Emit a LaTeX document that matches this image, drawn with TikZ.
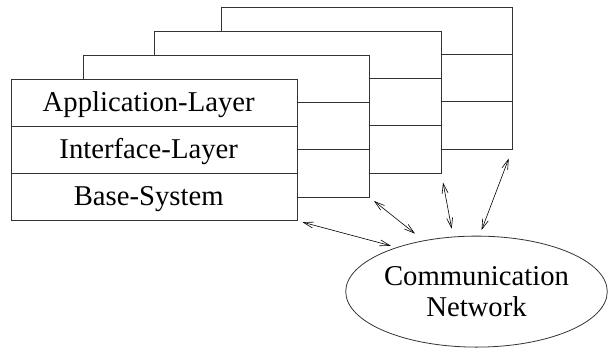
\documentclass[tikz,border=0pt]{standalone}
\usepackage{fontspec}
\newfontfamily\timesfont{Liberation Serif}
\usetikzlibrary{positioning,shapes.geometric,arrows.meta}

\definecolor{edge}{rgb}{0.2,0.2,0.2}

\tikzset{
  layer/.style={draw=edge, line width=1pt, fill=white, minimum width=286pt,
    minimum height=47.3pt, inner sep=0pt, outer sep=0pt,
    text height=17pt, text depth=0pt},
  txt/.style={font=\timesfont\fontsize{28.7}{31.7}\selectfont},
  link/.style={line width=0.6pt, {Straight Barb[length=10pt,width=6pt]}-{Straight Barb[length=10pt,width=6pt]}}
}

\begin{document}
\begin{tikzpicture}[x=1pt, y=-1pt]
        \useasboundingbox (0,0) rectangle (608,349);

        % the machines behind, back to front
        \foreach \k/\x/\y/\w in {3/221.7/7.3/290.6, 2/154.7/31.3/286.6, 1/83/55.3/286.3} {
            \node[layer, minimum width=\w pt, anchor=north west] (b\k-1) at (\x,\y) {};
            \node[layer, minimum width=\w pt, below=0pt of b\k-1] (b\k-2) {};
            \node[layer, minimum width=\w pt, below=0pt of b\k-2] (b\k-3) {};
        }

        % front machine
        \node[layer, txt, anchor=north west] (app) at (11.7,79) {\hspace*{-12pt}Application-Layer};
        \node[layer, txt, below=0pt of app] (iface) {\hspace*{-12pt}Interface-Layer};
        \node[layer, txt, below=0pt of iface] (base) {\hspace*{-12pt}Base-System};

        \node[draw=edge, line width=0.8pt, ellipse, txt, align=center, inner sep=0pt,
            minimum width=261pt, minimum height=111pt] (net) at (476.5,291.6) {Communication\\Network};

        \draw[link, shorten <=5pt, shorten >=6pt] (base.south east) -- (net.151);
        \draw[link, shorten <=6pt, shorten >=11pt] (b1-3.south east) -- (net.136);
        \draw[link, shorten <=9.5pt, shorten >=8pt] (b2-3.south east) -- (net.113);
        \draw[link, shorten <=10pt, shorten >=6pt] (b3-3.south east) -- (net.87);
    \end{tikzpicture}
\end{document}
